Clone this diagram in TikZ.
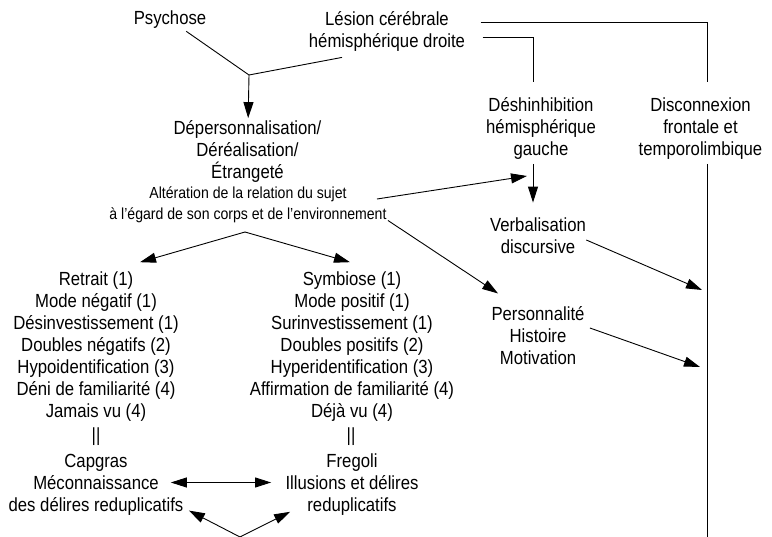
\documentclass[tikz,border=0pt]{standalone}
\usepackage{fontspec}
\setmainfont{Liberation Sans}[FakeStretch=0.88]
\usetikzlibrary{arrows.meta,calc}

\begin{document}
\begin{tikzpicture}[x=1pt,y=-1pt,line width=0.9pt,
    every node/.style={align=center,inner sep=2pt,font=\fontsize{19}{22}\selectfont},
    small/.style={font=\fontsize{16}{21}\selectfont},
    arr/.style={-{Triangle[length=16pt,width=10pt]}},
    dblarr/.style={{Triangle[length=16pt,width=10pt]}-{Triangle[length=16pt,width=10pt]}}]
  \useasboundingbox (0,0) rectangle (772,537);

  \node (psy) at (170,20) {Psychose};
  \node (lesion) at (387,31) {Lésion cérébrale\\hémisphérique droite};
  \node (dep) at (247.5,151.5) {Dépersonnalisation/\\Déréalisation/\\Étrangeté};
  \node[small] (alt) at (248,205) {Altération de la relation du sujet\\à l’égard de son corps et de l’environnement};

  \node (desh) at (541,128.5) {Déshinhibition\\hémisphérique\\gauche};
  \node (disc) at (700.5,128.5) {Disconnexion\\frontale et\\temporolimbique};
  \node (verb) at (538,236) {Verbalisation\\discursive};
  \node (pers) at (538,336) {Personnalité\\Histoire\\Motivation};

  \node (lcol) at (96,346.5) {Retrait (1)\\Mode négatif (1)\\Désinvestissement (1)\\Doubles négatifs (2)\\Hypoidentification (3)\\Déni de familiarité (4)\\Jamais vu (4)};
  \node (rcol) at (352,346.5) {Symbiose (1)\\Mode positif (1)\\Surinvestissement (1)\\Doubles positifs (2)\\Hyperidentification (3)\\Affirmation de familiarité (4)\\Déjà vu (4)};
  \node (lbar) at (96,437) {||};
  \node (rbar) at (351,437) {||};
  \node (lcap) at (96,484.5) {Capgras\\Méconnaissance\\des délires reduplicatifs};
  \node (rcap) at (352,484.5) {Fregoli\\Illusions et délires\\reduplicatifs};

  % free ends
  \coordinate (j) at (249,75);
  \coordinate (dvmid) at (527,176);
  \coordinate (split) at (245,232);
  \coordinate (in1) at (702,290);
  \coordinate (in2) at (700,367);
  \coordinate (bot) at (240,537);
  \coordinate (discend) at (707.5,537);

  \draw (psy) -- (j);
  \draw ($(lesion.south)+(-45,4)$) -- (j);
  \draw[arr] (j) -- (dep);

  \draw ($(lesion.east)+(13,-9)$) -| ($(disc.north)+(7,-13)$);
  \draw ($(lesion.east)+(15,6)$) -| ($(desh.north)+(-8,-13)$);
  \draw ($(disc.south)+(7,2)$) -- (discend);

  \coordinate (dtop) at ($(desh.south)+(-8,2)$);
  \draw[arr] (dtop) -- ($(dtop |- verb.north)+(0,-13)$);
  \draw[arr] ($(alt.east)+(-12,-6)$) -- (dvmid);
  \draw[arr] ($(alt.south east)+(-1,-5)$) -- ($(pers.north west)+(9,-11)$);
  \draw[arr] ($(verb.east)+(-2,4)$) -- (in1);
  \draw[arr] ($(pers.east)+(3,-8)$) -- (in2);

  \draw[arr] (split) -- ($(lcol.north)+(44,-7)$);
  \draw[arr] (split) -- ($(rcol.north)+(-2,-7)$);

  \draw[dblarr] ($(lcap.east)+(-15,-2)$) -- ($(rcap.west)+(-12,-2)$);
  \draw[arr] (bot) -- ($(lcap.south east)+(3,-7)$);
  \draw[arr] (bot) -- ($(rcap.south west)+(7,-6)$);
\end{tikzpicture}
\end{document}
